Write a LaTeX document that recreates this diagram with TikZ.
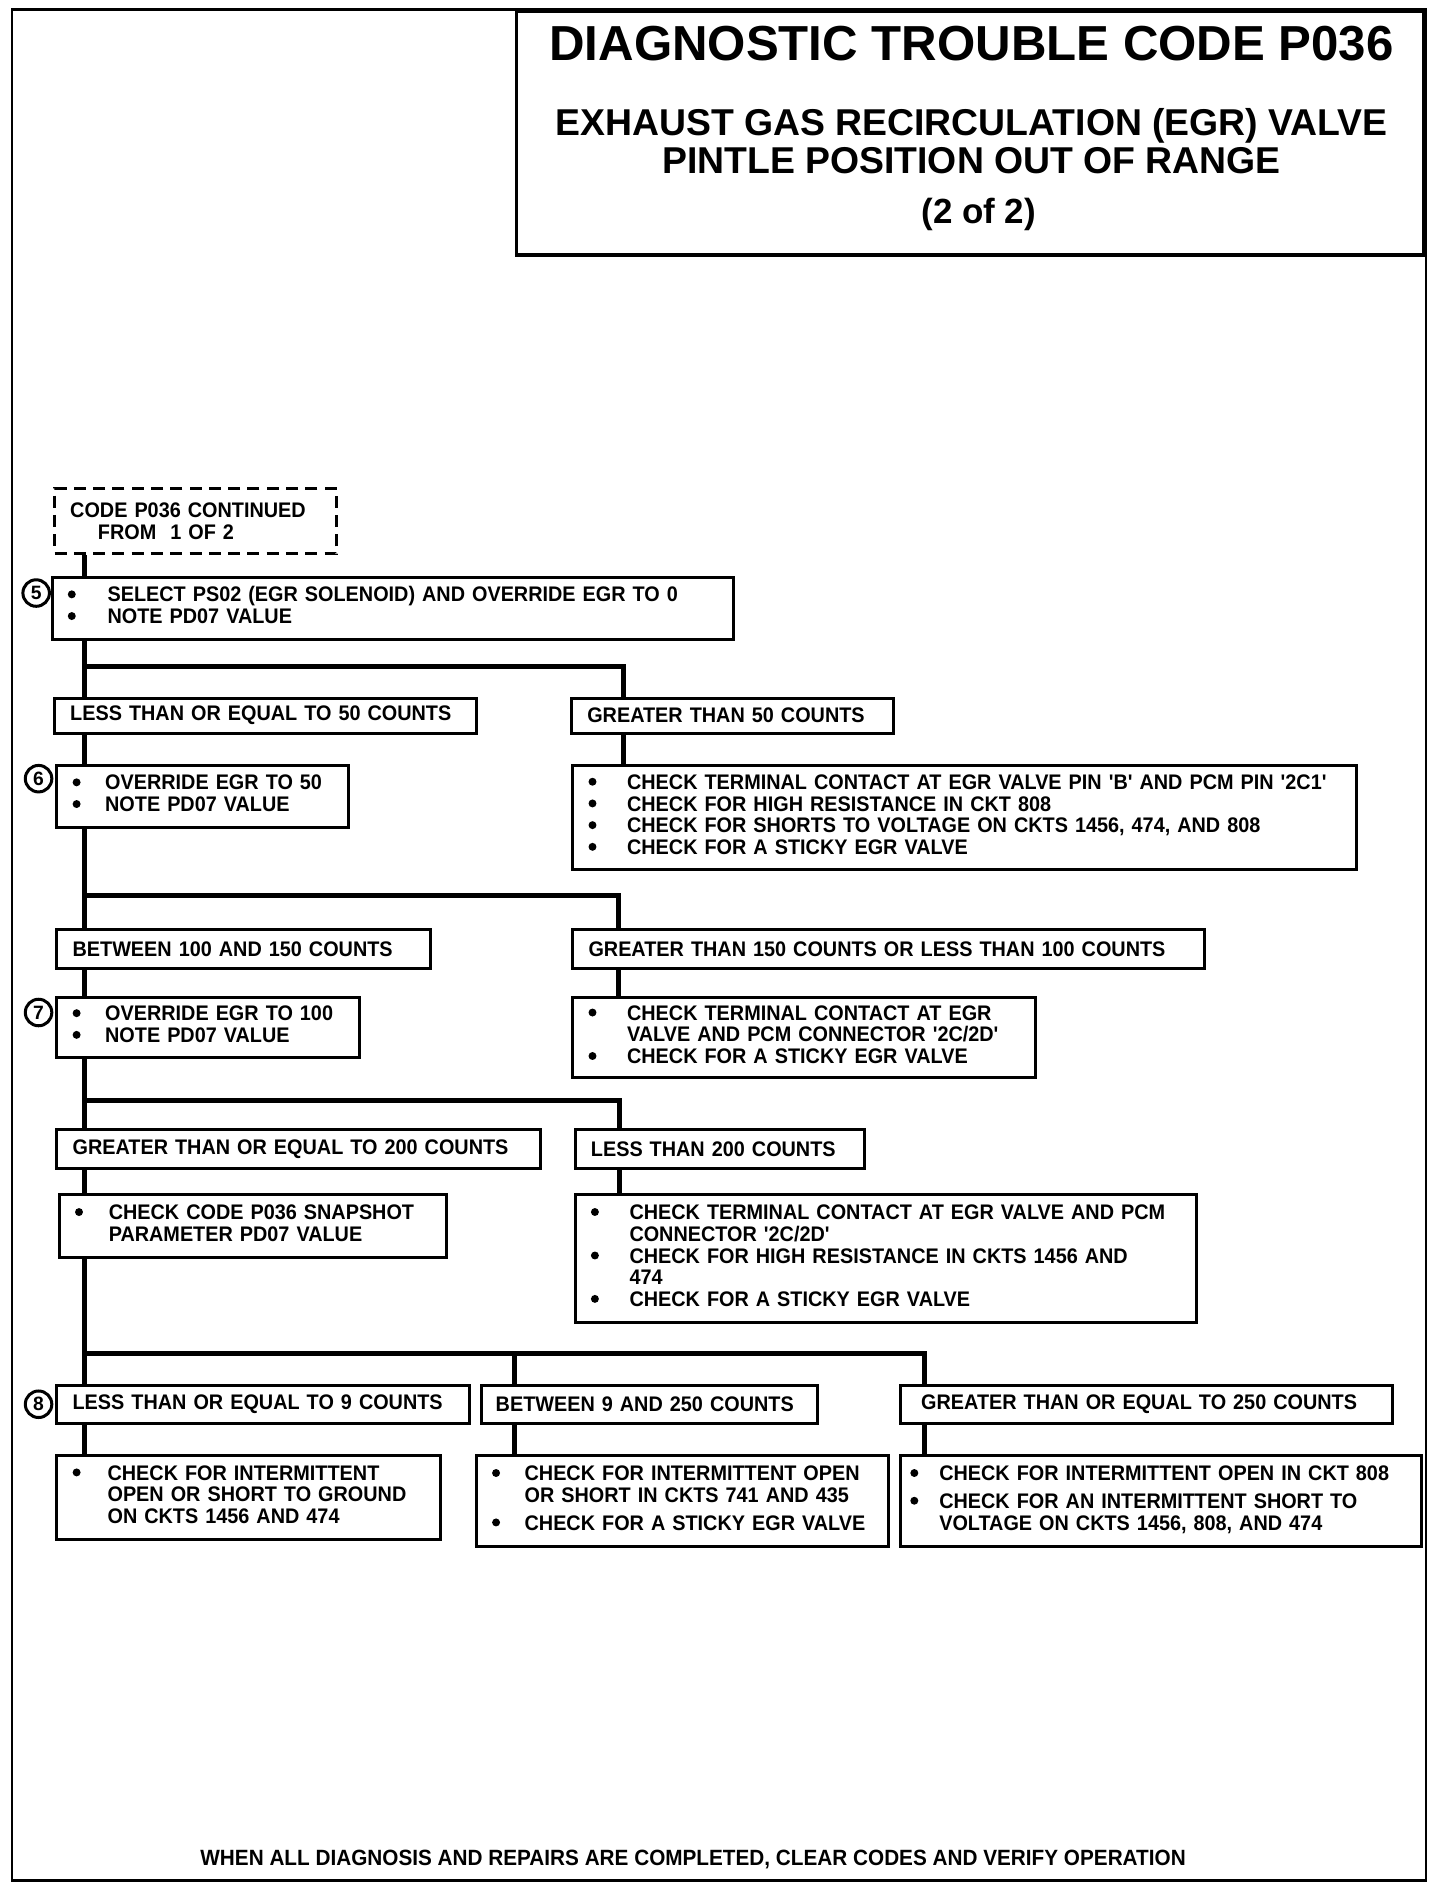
\documentclass[tikz,border=0pt]{standalone}
\usepackage{fontspec}
\setmainfont{Liberation Sans}
\newfontfamily\boxfont{Liberation Sans}[FakeStretch=0.94]
\newcommand{\chk}[2][30pt]{\begin{tabular}{@{}p{#1}@{}l@{}}#2\end{tabular}}
\newcommand{\blt}{\tikz[baseline=-6.3pt] \fill (0pt,0pt) circle [radius=3.3pt];}

\begin{document}
\begin{tikzpicture}[x=1pt,y=-1pt,
    box/.style={draw, line width=2.5pt, anchor=north west, inner xsep=13pt, inner ysep=0pt,
      align=left, font=\boxfont\fontsize{17.5}{18}\selectfont\bfseries},
    link/.style={line width=4pt, line join=miter},
    num/.style={circle, draw, line width=2.5pt, minimum size=22pt, inner sep=0pt,
      font=\fontsize{16}{16}\selectfont\bfseries}]
    \useasboundingbox (0,0) rectangle (1194.7,1568);
    \draw [line width=2pt] (10,8) rectangle (1183,1560);
    \node [draw, line width=3pt, anchor=north east, minimum width=753pt, minimum height=202pt] (ttl) at (1183,8) {};
    \node [font=\fontsize{40.8}{41}\selectfont\bfseries] (t1) at (806,36) {DIAGNOSTIC TROUBLE CODE P036};
    \node [font=\fontsize{31}{31}\selectfont\bfseries] (t2) at (806,104) {EXHAUST GAS RECIRCULATION (EGR) VALVE};
    \node [font=\fontsize{31}{31}\selectfont\bfseries] (t3) at (806,133) {PINTLE POSITION OUT OF RANGE};
    \node [font=\fontsize{29}{29}\selectfont\bfseries] (t4) at (812,178) {(2 of 2)};
    \node [box, dashed, dash pattern=on 10pt off 6pt, text width=208pt, minimum height=54pt] (cont) at (44,404)
      {CODE P036 CONTINUED\\\hspace*{23pt}FROM\ \ 1 OF 2};
    \node [box, text width=539pt, minimum height=51pt] (s5) at (42,478)
      {\chk[33pt]{\blt & SELECT PS02 (EGR SOLENOID) AND OVERRIDE EGR TO 0\\ \blt & NOTE PD07 VALUE}};
    \node [box, text width=324pt, minimum height=29pt] (le50) at (44,578) {\mbox{LESS THAN OR EQUAL TO 50 COUNTS}};
    \node [box, text width=241pt, minimum height=29pt] (gt50) at (473,578) {\mbox{GREATER THAN 50 COUNTS}};
    \node [box, text width=216pt, minimum height=51pt] (s6) at (46,634)
      {\chk[27pt]{\blt & OVERRIDE EGR TO 50\\ \blt & NOTE PD07 VALUE}};
    \node [box, text width=624pt, minimum height=86pt] (r50) at (474,634)
      {\chk[32pt]{\blt & CHECK TERMINAL CONTACT AT EGR VALVE PIN 'B' AND PCM PIN '2C1'\\
        \blt & CHECK FOR HIGH RESISTANCE IN CKT 808\\
        \blt & CHECK FOR SHORTS TO VOLTAGE ON CKTS 1456, 474, AND 808\\
        \blt & CHECK FOR A STICKY EGR VALVE}};
    \node [box, text width=284pt, minimum height=32pt] (c100) at (46,770) {\mbox{BETWEEN 100 AND 150 COUNTS}};
    \node [box, text width=498pt, minimum height=32pt] (gt150) at (474,770) {\mbox{GREATER THAN 150 COUNTS OR LESS THAN 100 COUNTS}};
    \node [box, text width=225pt, minimum height=50pt] (s7) at (46,826)
      {\chk[27pt]{\blt & OVERRIDE EGR TO 100\\ \blt & NOTE PD07 VALUE}};
    \node [box, text width=358pt, minimum height=67pt] (r150) at (474,826)
      {\chk[32pt]{\blt & CHECK TERMINAL CONTACT AT EGR\\
        & VALVE AND PCM CONNECTOR '2C/2D'\\
        \blt & CHECK FOR A STICKY EGR VALVE}};
    \node [box, text width=375pt, minimum height=32pt] (ge200) at (46,936) {\mbox{GREATER THAN OR EQUAL TO 200 COUNTS}};
    \node [box, text width=214pt, minimum height=32pt] (lt200) at (476,936) {\mbox{LESS THAN 200 COUNTS}};
    \node [box, text width=295pt, minimum height=52pt] (snap) at (48,990)
      {\chk[28pt]{\blt & CHECK CODE P036 SNAPSHOT\\ & PARAMETER PD07 VALUE}};
    \node [box, text width=489pt, minimum height=106pt] (r200) at (476,990)
      {\chk[32pt]{\blt & CHECK TERMINAL CONTACT AT EGR VALVE AND PCM\\
        & CONNECTOR '2C/2D'\\
        \blt & CHECK FOR HIGH RESISTANCE IN CKTS 1456 AND\\
        & 474\\
        \blt & CHECK FOR A STICKY EGR VALVE}};
    \node [box, text width=316pt, minimum height=32pt] (le9) at (46,1148) {\mbox{LESS THAN OR EQUAL TO 9 COUNTS}};
    \node [box, inner xsep=12pt, text width=255pt, minimum height=32pt] (bt9) at (398,1148) {\mbox{BETWEEN 9 AND 250 COUNTS}};
    \node [box, inner xsep=17pt, text width=374pt, minimum height=32pt] (ge250) at (746,1148) {\mbox{GREATER THAN OR EQUAL TO 250 COUNTS}};
    \node [box, text width=292pt, minimum height=70pt] (r9) at (46,1206)
      {\chk[29pt]{\blt & CHECK FOR INTERMITTENT\\ & OPEN OR SHORT TO GROUND\\ & ON CKTS 1456 AND 474}};
    \node [box, text width=316pt, minimum height=76pt] (r9b) at (394,1206)
      {\chk[27pt]{\blt & CHECK FOR INTERMITTENT OPEN\\ & OR SHORT IN CKTS 741 AND 435\\[5pt]
        \blt & CHECK FOR A STICKY EGR VALVE}};
    \node [box, inner xsep=8pt, text width=416pt, minimum height=76pt] (r250) at (746,1206)
      {\chk[24pt]{\blt & CHECK FOR INTERMITTENT OPEN IN CKT 808\\[5pt]
        \blt & CHECK FOR AN INTERMITTENT SHORT TO\\ & VOLTAGE ON CKTS 1456, 808, AND 474}};
    \node [num] (n5) at (30,492) {5};
    \node [num] (n6) at (32,646) {6};
    \node [num] (n7) at (32,840) {7};
    \node [num] (n8) at (32,1165) {8};
    \node [font=\boxfont\fontsize{18.3}{18}\selectfont\bfseries] (foot) at (575,1543)
      {WHEN ALL DIAGNOSIS AND REPAIRS ARE COMPLETED, CLEAR CODES AND VERIFY OPERATION};
    \coordinate (sp) at (70,0);
    \coordinate (j1) at (0,553);
    \coordinate (j2) at (0,743);
    \coordinate (j3) at (0,913);
    \coordinate (j4) at (0,1123);
    \coordinate (a50) at ([xshift=44pt]gt50.north west);
    \coordinate (a150) at ([xshift=39pt]gt150.north west);
    \coordinate (a200) at ([xshift=38pt]lt200.north west);
    \coordinate (a9) at ([xshift=29pt]bt9.north west);
    \coordinate (a250) at ([xshift=21pt]ge250.north west);
    \draw [link] (sp |- cont.south) -- (sp |- s5.north);
    \draw [link] (sp |- s5.south) -- (sp |- le50.north);
    \draw [link] (sp |- j1) -| (a50);
    \draw [link] (a50 |- gt50.south) -- (a50 |- r50.north);
    \draw [link] (sp |- le50.south) -- (sp |- s6.north);
    \draw [link] (sp |- s6.south) -- (sp |- c100.north);
    \draw [link] (sp |- j2) -| (a150);
    \draw [link] (a150 |- gt150.south) -- (a150 |- r150.north);
    \draw [link] (sp |- c100.south) -- (sp |- s7.north);
    \draw [link] (sp |- s7.south) -- (sp |- ge200.north);
    \draw [link] (sp |- j3) -| (a200);
    \draw [link] (a200 |- lt200.south) -- (a200 |- r200.north);
    \draw [link] (sp |- ge200.south) -- (sp |- snap.north);
    \draw [link] (sp |- snap.south) -- (sp |- le9.north);
    \draw [link] (sp |- j4) -| (a250);
    \draw [link] (a9 |- j4) -- (a9);
    \draw [link] (sp |- le9.south) -- (sp |- r9.north);
    \draw [link] (a9 |- bt9.south) -- (a9 |- r9b.north);
    \draw [link] (a250 |- ge250.south) -- (a250 |- r250.north);
\end{tikzpicture}
\end{document}
